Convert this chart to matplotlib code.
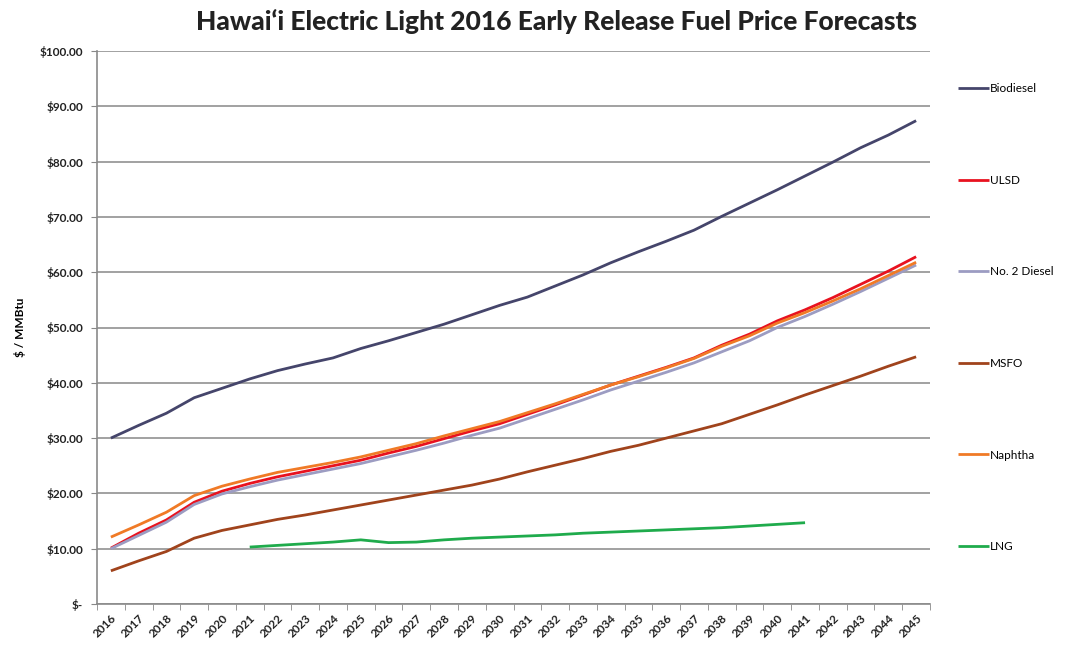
import matplotlib
matplotlib.use("Agg")
import matplotlib.pyplot as plt
import numpy as np

years = list(range(2016, 2046))

biodiesel = [30.0, 32.3, 34.5, 37.3, 39.0, 40.7, 42.2, 43.4, 44.5, 46.2,
             47.6, 49.1, 50.6, 52.3, 54.0, 55.5, 57.5, 59.5, 61.7, 63.7,
             65.6, 67.6, 70.1, 72.5, 74.9, 77.4, 79.9, 82.5, 84.8, 87.4]
ulsd = [10.1, 12.8, 15.2, 18.4, 20.4, 21.8, 23.0, 24.0, 25.0, 26.0,
        27.3, 28.5, 29.9, 31.3, 32.6, 34.3, 36.0, 37.8, 39.6, 41.2,
        42.8, 44.5, 46.8, 48.8, 51.2, 53.2, 55.4, 57.8, 60.2, 62.8]
no2_diesel = [10.0, 12.4, 14.8, 18.0, 19.9, 21.2, 22.4, 23.4, 24.4, 25.4,
              26.6, 27.8, 29.1, 30.5, 31.8, 33.5, 35.2, 36.9, 38.7, 40.3,
              41.9, 43.6, 45.6, 47.6, 50.0, 52.0, 54.2, 56.5, 58.9, 61.3]
msfo = [6.0, 7.8, 9.5, 11.9, 13.3, 14.3, 15.3, 16.1, 17.0, 17.9,
        18.8, 19.7, 20.6, 21.5, 22.6, 23.9, 25.1, 26.3, 27.6, 28.7,
        30.0, 31.3, 32.6, 34.3, 36.0, 37.8, 39.5, 41.2, 43.0, 44.7]
naphtha = [12.1, 14.3, 16.6, 19.6, 21.3, 22.6, 23.8, 24.7, 25.6, 26.6,
           27.8, 29.0, 30.4, 31.7, 33.0, 34.6, 36.2, 37.9, 39.6, 41.1,
           42.7, 44.4, 46.6, 48.5, 50.8, 52.7, 54.8, 57.0, 59.4, 61.8]
lng_years = list(range(2021, 2042))
lng = [10.3, 10.6, 10.9, 11.2, 11.6, 11.1, 11.2, 11.6, 11.9, 12.1,
       12.3, 12.5, 12.8, 13.0, 13.2, 13.4, 13.6, 13.8, 14.1, 14.4, 14.7]

series = [
    ("Biodiesel", years, biodiesel, "#45456b"),
    ("ULSD", years, ulsd, "#e8121f"),
    ("No. 2 Diesel", years, no2_diesel, "#9c9cc2"),
    ("MSFO", years, msfo, "#a0431c"),
    ("Naphtha", years, naphtha, "#f07a26"),
    ("LNG", lng_years, lng, "#1fab4c"),
]

plt.rcParams['font.family'] = ['Lato', 'DejaVu Sans']

fig = plt.figure(figsize=(10.69, 6.48), dpi=100)
ax = fig.add_axes([97/1069, 1-604/648, (930-97)/1069, (604-51)/648])

pos = {y: i for i, y in enumerate(years)}
handles = []
for name, xs, ys, col in series:
    h, = ax.plot([pos[x] for x in xs], ys, color=col, lw=2.0, label=name,
                 solid_capstyle='butt', zorder=3)
    handles.append(h)

ax.set_xlim(-0.5, len(years) - 0.5)
ax.set_ylim(0, 100)
ax.set_yticks(np.arange(0, 101, 10))
ax.set_yticklabels(["$-"] + [f"${v:.2f}" for v in range(10, 101, 10)],
                   fontsize=8.5, fontweight='bold', color='#222222')
ax.yaxis.grid(True, color='#9a9a9a', lw=1.3)
ax.set_axisbelow(True)

ax.set_xticks(range(len(years)))
ax.set_xticklabels([str(y) for y in years], rotation=45, ha='right',
                   rotation_mode='anchor', fontsize=8.5, fontweight='bold',
                   color='#222222')
ax.set_xticks(np.arange(-0.5, len(years), 1), minor=True)
ax.tick_params(axis='x', which='major', length=0, pad=6)
ax.tick_params(axis='x', which='minor', length=4, color='#888888')
ax.tick_params(axis='y', length=4, color='#888888', pad=6)

for s in ['top', 'right']:
    ax.spines[s].set_visible(False)
for s in ['left', 'bottom']:
    ax.spines[s].set_color('#8a8a8a')
    ax.spines[s].set_linewidth(1.2)

ax.set_ylabel("$ / MMBtu", fontsize=8.5, fontweight='bold', labelpad=10)

fig.text(557/1069, 1-21/648, "Hawai\u2018i Electric Light 2016 Early Release Fuel Price Forecasts",
         ha='center', va='center', fontsize=19, fontweight='black', color='#222222')

fig.legend(handles=handles, loc='upper left',
           bbox_to_anchor=(958/1069, 1-83/648), frameon=False,
           fontsize=8.5, handlelength=2.6, handletextpad=0.1,
           labelspacing=6.83, borderaxespad=0, borderpad=0)

fig.savefig("out.png", dpi=100)
